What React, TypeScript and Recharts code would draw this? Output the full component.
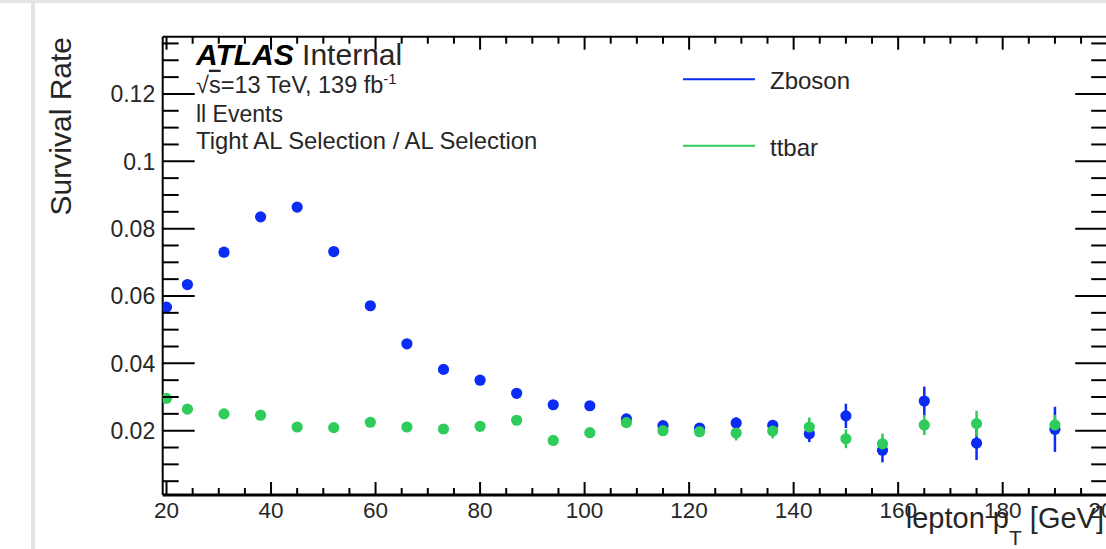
import React from 'react';
import { ScatterChart, Scatter, XAxis, YAxis, ErrorBar, Legend, ReferenceLine } from 'recharts';

// ---- data ----
const ptBins = [20, 24, 31, 38, 45, 52, 59, 66, 73, 80, 87, 94, 101, 108, 115, 122, 129, 136, 143, 150, 157, 165, 175, 190];
const zbosonRate = [0.0567, 0.0634, 0.073, 0.0835, 0.0864, 0.0732, 0.0571, 0.0458, 0.0382, 0.035, 0.0311, 0.0277, 0.0274, 0.0235, 0.0215, 0.0208, 0.0223, 0.0216, 0.0191, 0.0244, 0.0142, 0.0288, 0.0163, 0.0204];
const zbosonErr = [0.0005, 0.0005, 0.0006, 0.0006, 0.0006, 0.0006, 0.0006, 0.0006, 0.0006, 0.0007, 0.0008, 0.0009, 0.001, 0.0011, 0.0012, 0.0014, 0.0016, 0.0016, 0.0025, 0.0036, 0.0036, 0.0043, 0.005, 0.0067];
const ttbarRate = [0.0296, 0.0264, 0.025, 0.0246, 0.0211, 0.0209, 0.0225, 0.0211, 0.0205, 0.0213, 0.0231, 0.0171, 0.0194, 0.0224, 0.02, 0.0197, 0.0193, 0.0199, 0.0211, 0.0176, 0.0161, 0.0217, 0.0221, 0.0217];
const ttbarErr = [0.0008, 0.0007, 0.0007, 0.0007, 0.0007, 0.0007, 0.0007, 0.0007, 0.0007, 0.0008, 0.0009, 0.001, 0.0011, 0.0013, 0.0014, 0.0016, 0.0022, 0.0022, 0.0028, 0.0028, 0.003, 0.003, 0.0038, 0.003];

const xMajorTicks = [20, 40, 60, 80, 100, 120, 140, 160, 180, 200];
const xMajorLabels = ['20', '40', '60', '80', '100', '120', '140', '160', '180', '200'];
const yMajorTicks = [0.02, 0.04, 0.06, 0.08, 0.1, 0.12];
const yMajorLabels = ['0.02', '0.04', '0.06', '0.08', '0.1', '0.12'];

const seriesNames = ['Zboson', 'ttbar'];
const seriesColors = ['#0b2cf4', '#2fcb5b'];

const X_DOMAIN: [number, number] = [19.27, 200];
const Y_DOMAIN: [number, number] = [0.0009, 0.137];

// minor ticks (axis decoration)
const xMinorTicks = Array.from({ length: 37 }, (_, i) => 20 + 5 * i).filter((v) => v % 20 !== 0);
const yMinorTicks = Array.from({ length: 27 }, (_, i) => +(0.005 * (i + 1)).toFixed(3)).filter(
  (v) => Math.abs(v / 0.02 - Math.round(v / 0.02)) > 1e-6
);
const xAllTicks = [...xMajorTicks, ...xMinorTicks].sort((a, b) => a - b);
const yAllTicks = [...yMajorTicks, ...yMinorTicks].sort((a, b) => a - b);

const zData = ptBins.map((x, i) => ({ x, y: zbosonRate[i], err: zbosonErr[i] }));
const tData = ptBins.map((x, i) => ({ x, y: ttbarRate[i], err: ttbarErr[i] }));

const FONT = '"Liberation Sans", Arial, Helvetica, sans-serif';
const TXT = '#262626';

const xMajorIdx = (v: number) => xMajorTicks.findIndex((m) => Math.abs(m - v) < 1e-6);
const yMajorIdx = (v: number) => yMajorTicks.findIndex((m) => Math.abs(m - v) < 1e-6);

const BottomTick = (props: any) => {
  const { x, y, payload } = props;
  const idx = xMajorIdx(payload.value);
  const major = idx >= 0;
  return (
    <g>
      <line x1={x} x2={x} y1={y} y2={y - (major ? 13 : 7)} stroke="#000" strokeWidth={2} />
      {major && (
        <text x={x} y={y + 22.5} textAnchor="middle" fontSize={22.5} fontFamily={FONT} fill={TXT}>
          {xMajorLabels[idx]}
        </text>
      )}
    </g>
  );
};

const TopTick = (props: any) => {
  const { x, y, payload } = props;
  const major = xMajorIdx(payload.value) >= 0;
  return <line x1={x} x2={x} y1={y} y2={y + (major ? 13 : 7)} stroke="#000" strokeWidth={2} />;
};

const LeftTick = (props: any) => {
  const { x, y, payload } = props;
  const idx = yMajorIdx(payload.value);
  const major = idx >= 0;
  return (
    <g>
      <line x1={x} x2={x + (major ? 32 : 16)} y1={y} y2={y} stroke="#000" strokeWidth={2} />
      {major && (
        <text x={x - 7.5} y={y + 8.5} textAnchor="end" fontSize={23} fontFamily={FONT} fill={TXT}>
          {yMajorLabels[idx]}
        </text>
      )}
    </g>
  );
};

const RightTick = (props: any) => {
  const { x, y, payload } = props;
  const major = yMajorIdx(payload.value) >= 0;
  return <line x1={x} x2={x - (major ? 32 : 16)} y1={y} y2={y} stroke="#000" strokeWidth={2} />;
};

const makeDot = (color: string) => (props: any) => {
  const { cx, cy } = props;
  if (cx == null || cy == null) return <g />;
  return <circle cx={cx} cy={cy} r={5.6} fill={color} />;
};

const renderLegend = (props: any) => {
  const payload = props.payload || [];
  return (
    <svg width={300} height={140} style={{ display: 'block', overflow: 'visible' }}>
      {payload.map((entry: any, i: number) => {
        const si = seriesNames.indexOf(entry.value);
        const color = si >= 0 ? seriesColors[si] : entry.color;
        const cy = 29.3 + i * 66.4;
        return (
          <g key={entry.value}>
            <line x1={23} x2={95} y1={cy} y2={cy} stroke={color} strokeWidth={2} />
            <text x={110} y={cy + 10} fontSize={24} fontFamily={FONT} fill={TXT}>
              {entry.value}
            </text>
          </g>
        );
      })}
    </svg>
  );
};

const CHART_W = 1130;
const CHART_H = 549;

export default function App() {
  return (
    <div
      style={{
        position: 'absolute',
        left: 0,
        top: 0,
        width: 1106,
        height: 549,
        overflow: 'hidden',
        background: '#fff',
      }}
    >
      <ScatterChart
        width={CHART_W}
        height={CHART_H}
        margin={{ top: 26.7, right: 12.8, bottom: 24, left: 62.7 }}
      >
        <XAxis
          xAxisId="b"
          type="number"
          dataKey="x"
          orientation="bottom"
          domain={X_DOMAIN}
          allowDataOverflow
          ticks={xAllTicks}
          interval={0}
          height={30}
          tickSize={0}
          tickMargin={0}
          tickLine={false}
          axisLine={{ stroke: '#000', strokeWidth: 3 }}
          tick={BottomTick}
        />
        <XAxis
          xAxisId="t"
          type="number"
          dataKey="x"
          orientation="top"
          domain={X_DOMAIN}
          allowDataOverflow
          ticks={xAllTicks}
          interval={0}
          height={10}
          tickSize={0}
          tickMargin={0}
          tickLine={false}
          axisLine={{ stroke: '#000', strokeWidth: 2 }}
          tick={TopTick}
        />
        <YAxis
          yAxisId="l"
          type="number"
          dataKey="y"
          orientation="left"
          domain={Y_DOMAIN}
          allowDataOverflow
          ticks={yAllTicks}
          interval={0}
          width={100}
          tickSize={0}
          tickMargin={0}
          tickLine={false}
          axisLine={{ stroke: '#000', strokeWidth: 2 }}
          tick={LeftTick}
        />
        <YAxis
          yAxisId="r"
          type="number"
          dataKey="y"
          orientation="right"
          domain={Y_DOMAIN}
          allowDataOverflow
          ticks={yAllTicks}
          interval={0}
          width={10}
          tickSize={0}
          tickMargin={0}
          tickLine={false}
          axisLine={{ stroke: '#000', strokeWidth: 2 }}
          tick={RightTick}
        />
        <ReferenceLine
          xAxisId="b"
          yAxisId="l"
          y={0.00048}
          ifOverflow="visible"
          stroke="#ffffff"
          strokeWidth={1}
          strokeDasharray="5 3"
        />
        <Legend
          layout="horizontal"
          verticalAlign="middle"
          align="center"
          content={renderLegend}
          wrapperStyle={{ position: 'absolute', left: 660, top: 50, width: 300, height: 140 }}
        />
        <Scatter
          name={seriesNames[0]}
          data={zData}
          xAxisId="b"
          yAxisId="l"
          fill={seriesColors[0]}
          shape={makeDot(seriesColors[0])}
          isAnimationActive={false}
        >
          <ErrorBar dataKey="err" direction="y" width={0} stroke={seriesColors[0]} strokeWidth={2.5} />
        </Scatter>
        <Scatter
          name={seriesNames[1]}
          data={tData}
          xAxisId="b"
          yAxisId="l"
          fill={seriesColors[1]}
          shape={makeDot(seriesColors[1])}
          isAnimationActive={false}
        >
          <ErrorBar dataKey="err" direction="y" width={0} stroke={seriesColors[1]} strokeWidth={2.5} />
        </Scatter>
      </ScatterChart>

      {/* frame decoration */}
      <div style={{ position: 'absolute', left: 0, top: 0, width: 1106, height: 3, background: '#e4e4e4' }} />
      <div style={{ position: 'absolute', left: 31, top: 0, width: 4, height: 549, background: '#e4e4e4' }} />

      {/* titles and annotations */}
      <svg
        width={1106}
        height={549}
        style={{ position: 'absolute', left: 0, top: 0, pointerEvents: 'none', overflow: 'visible' }}
      >
        <text
          transform="translate(71,37) rotate(-90)"
          textAnchor="end"
          fontSize={30}
          fontFamily={FONT}
          fill={TXT}
        >
          Survival Rate
        </text>
        <text x={1104} y={528} textAnchor="end" fontSize={29} fontFamily={FONT} fill={TXT}>
          lepton p
          <tspan dy={17} fontSize={21}>T</tspan>
          <tspan dy={-17}> [GeV]</tspan>
        </text>
        <text x={196} y={65} fontSize={30} fontFamily={FONT} fill="#000">
          <tspan fontWeight="bold" fontStyle="italic">ATLAS</tspan>
          <tspan fill={TXT}> Internal</tspan>
        </text>
        <text x={196} y={92.7} fontSize={23.5} fontFamily={FONT} fill={TXT}>
          √<tspan style={{ textDecoration: 'overline' }}>s</tspan>=13 TeV, 139 fb
          <tspan dy={-9} fontSize={15}>-1</tspan>
        </text>
        <text x={196} y={122.3} fontSize={23} fontFamily={FONT} fill={TXT}>
          ll Events
        </text>
        <text x={196} y={149.3} fontSize={23.8} fontFamily={FONT} fill={TXT}>
          Tight AL Selection / AL Selection
        </text>
      </svg>
    </div>
  );
}
